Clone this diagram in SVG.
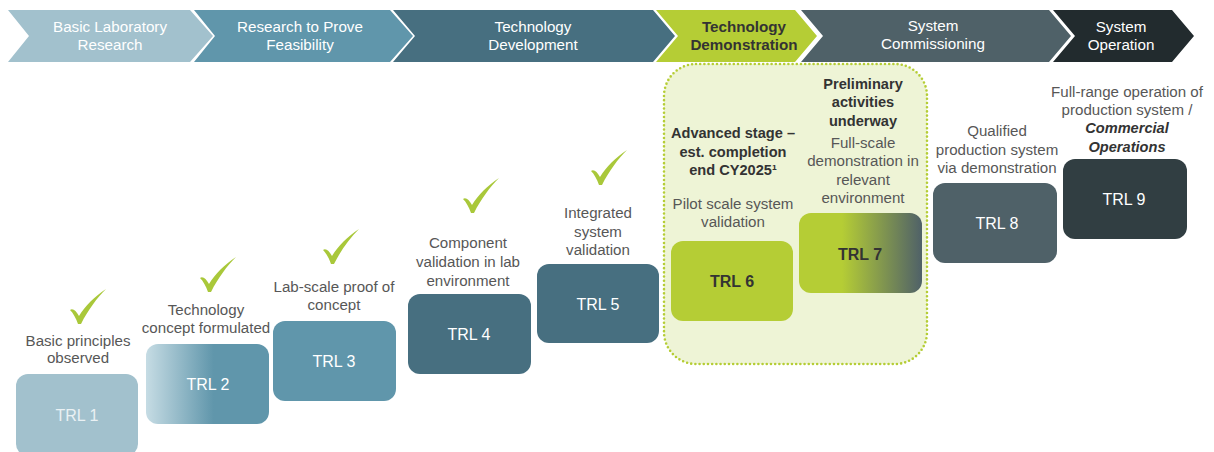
<svg xmlns="http://www.w3.org/2000/svg" width="1214" height="452" viewBox="0 0 1214 452">
<style>
text{font-family:"Liberation Sans",Arial,sans-serif;text-anchor:middle}
.ch{font-size:15.2px;fill:#ffffff}
.lbl{font-size:15.1px;fill:#575757}
.bl{font-size:14.6px;fill:#333333;font-weight:bold}
.trl{font-size:16px;fill:#ffffff}
.trlb{font-size:16px;fill:#333333;font-weight:bold}
.chk{fill:#a9c83a}
</style>
<defs>
<linearGradient id="g2" x1="0" y1="0" x2="1" y2="0">
<stop offset="0" stop-color="#c6dce4"/>
<stop offset="0.55" stop-color="#6096ab"/>
<stop offset="1" stop-color="#6096ab"/>
</linearGradient>
<linearGradient id="g7" x1="0" y1="0" x2="1" y2="0">
<stop offset="0" stop-color="#b5cd35"/>
<stop offset="0.35" stop-color="#b5cd35"/>
<stop offset="1" stop-color="#4f6168"/>
</linearGradient>
<path id="check" d="M0,21 C3,19 6,22 9,27 C15,17 24,8 36,0 C27,9 18,21 11,35 L8,35 C6,29 3,24 0,21 Z"/>
</defs>
<rect width="1214" height="452" fill="#ffffff"/>

<g id="phases">
<g id="phase1"><path d="M8,10 L190,10 L213,36 L190,62 L8,62 L29,36 Z" fill="#a2c1cd"/>
<text class="ch" x="110" y="32" fill="#eef4f6">Basic Laboratory</text><text class="ch" x="110" y="50">Research</text></g>
<g id="phase2"><path d="M194,10 L390,10 L413,36 L390,62 L194,62 L215,36 Z" fill="#6096ab"/>
<text class="ch" x="300" y="32">Research to Prove</text><text class="ch" x="300" y="50">Feasibility</text></g>
<g id="phase3"><path d="M393,10 L653,10 L675,36 L653,62 L393,62 L415,36 Z" fill="#476f80"/>
<text class="ch" x="533" y="32">Technology</text><text class="ch" x="533" y="50">Development</text></g>
<g id="phase4"><path d="M656,10 L795,10 L817,36 L795,62 L656,62 L678,36 Z" fill="#b5cd35"/>
<text class="ch" x="744" y="32" style="fill:#333333;font-weight:bold">Technology</text><text class="ch" x="744" y="50" style="fill:#333333;font-weight:bold">Demonstration</text></g>
<g id="phase5"><path d="M801,10 L1049,10 L1071,36 L1049,62 L801,62 L823,36 Z" fill="#4f6168"/>
<text class="ch" x="933" y="31">System</text><text class="ch" x="933" y="49">Commissioning</text></g>
<g id="phase6"><path d="M1053,10 L1172,10 L1194,36 L1172,62 L1053,62 L1075,36 Z" fill="#222b2e"/>
<text class="ch" x="1121" y="32">System</text><text class="ch" x="1121" y="50">Operation</text></g>
</g>

<g id="demo-zone">
<rect x="664" y="64" width="263" height="300" rx="32" fill="#eef4d6" stroke="#b5cd35" stroke-width="2.6" stroke-dasharray="0 4.2" stroke-linecap="round"/>
</g>

<g id="trl1">
<use href="#check" class="chk" x="70" y="289"/>
<text class="lbl" x="78" y="346">Basic principles</text><text class="lbl" x="78" y="363">observed</text>
<rect x="16" y="374" width="122" height="82" rx="12" fill="#a2c1cd"/>
<text class="trl" x="77" y="421" style="fill:#eaf1f4">TRL 1</text>
</g>
<g id="trl2">
<use href="#check" class="chk" x="200" y="257"/>
<text class="lbl" x="206" y="315">Technology</text><text class="lbl" x="206" y="333">concept formulated</text>
<rect x="146" y="344" width="123" height="80" rx="12" fill="url(#g2)"/>
<text class="trl" x="208" y="390">TRL 2</text>
</g>
<g id="trl3">
<use href="#check" class="chk" x="323" y="229"/>
<text class="lbl" x="334" y="292">Lab-scale proof of</text><text class="lbl" x="334" y="310">concept</text>
<rect x="273" y="321" width="123" height="80" rx="12" fill="#6096ab"/>
<text class="trl" x="334" y="367">TRL 3</text>
</g>
<g id="trl4">
<use href="#check" class="chk" x="463" y="178"/>
<text class="lbl" x="468" y="248">Component</text><text class="lbl" x="468" y="267">validation in lab</text><text class="lbl" x="468" y="286">environment</text>
<rect x="408" y="294" width="123" height="80" rx="12" fill="#476f80"/>
<text class="trl" x="469" y="340">TRL 4</text>
</g>
<g id="trl5">
<use href="#check" class="chk" x="591" y="150"/>
<text class="lbl" x="598" y="218">Integrated</text><text class="lbl" x="598" y="237">system</text><text class="lbl" x="598" y="255">validation</text>
<rect x="537" y="264" width="122" height="79" rx="12" fill="#476f80"/>
<text class="trl" x="598" y="310">TRL 5</text>
</g>
<g id="trl6">
<text class="bl" x="733" y="138">Advanced stage –</text><text class="bl" x="733" y="157">est. completion</text><text class="bl" x="733" y="175">end CY2025¹</text>
<text class="lbl" x="733" y="209">Pilot scale system</text><text class="lbl" x="733" y="227">validation</text>
<rect x="671" y="241" width="122" height="80" rx="12" fill="#b5cd35"/>
<text class="trlb" x="732" y="287">TRL 6</text>
</g>
<g id="trl7">
<text class="bl" x="863" y="89">Preliminary</text><text class="bl" x="863" y="107">activities</text><text class="bl" x="863" y="126">underway</text>
<text class="lbl" x="863" y="148">Full-scale</text><text class="lbl" x="863" y="166">demonstration in</text><text class="lbl" x="863" y="185">relevant</text><text class="lbl" x="863" y="203">environment</text>
<rect x="799" y="213" width="123" height="80" rx="12" fill="url(#g7)"/>
<text class="trlb" x="860" y="260">TRL 7</text>
</g>
<g id="trl8">
<text class="lbl" x="997" y="136">Qualified</text><text class="lbl" x="997" y="155">production system</text><text class="lbl" x="997" y="173">via demonstration</text>
<rect x="933" y="183" width="124" height="80" rx="12" fill="#4f6168"/>
<text class="trl" x="997" y="229">TRL 8</text>
</g>
<g id="trl9">
<text class="lbl" x="1127" y="97">Full-range operation of</text><text class="lbl" x="1127" y="115">production system /</text>
<text class="bl" x="1127" y="133" font-style="italic">Commercial</text><text class="bl" x="1127" y="152" font-style="italic">Operations</text>
<rect x="1063" y="159" width="124" height="80" rx="12" fill="#313e42"/>
<text class="trl" x="1124" y="205">TRL 9</text>
</g>
</svg>
